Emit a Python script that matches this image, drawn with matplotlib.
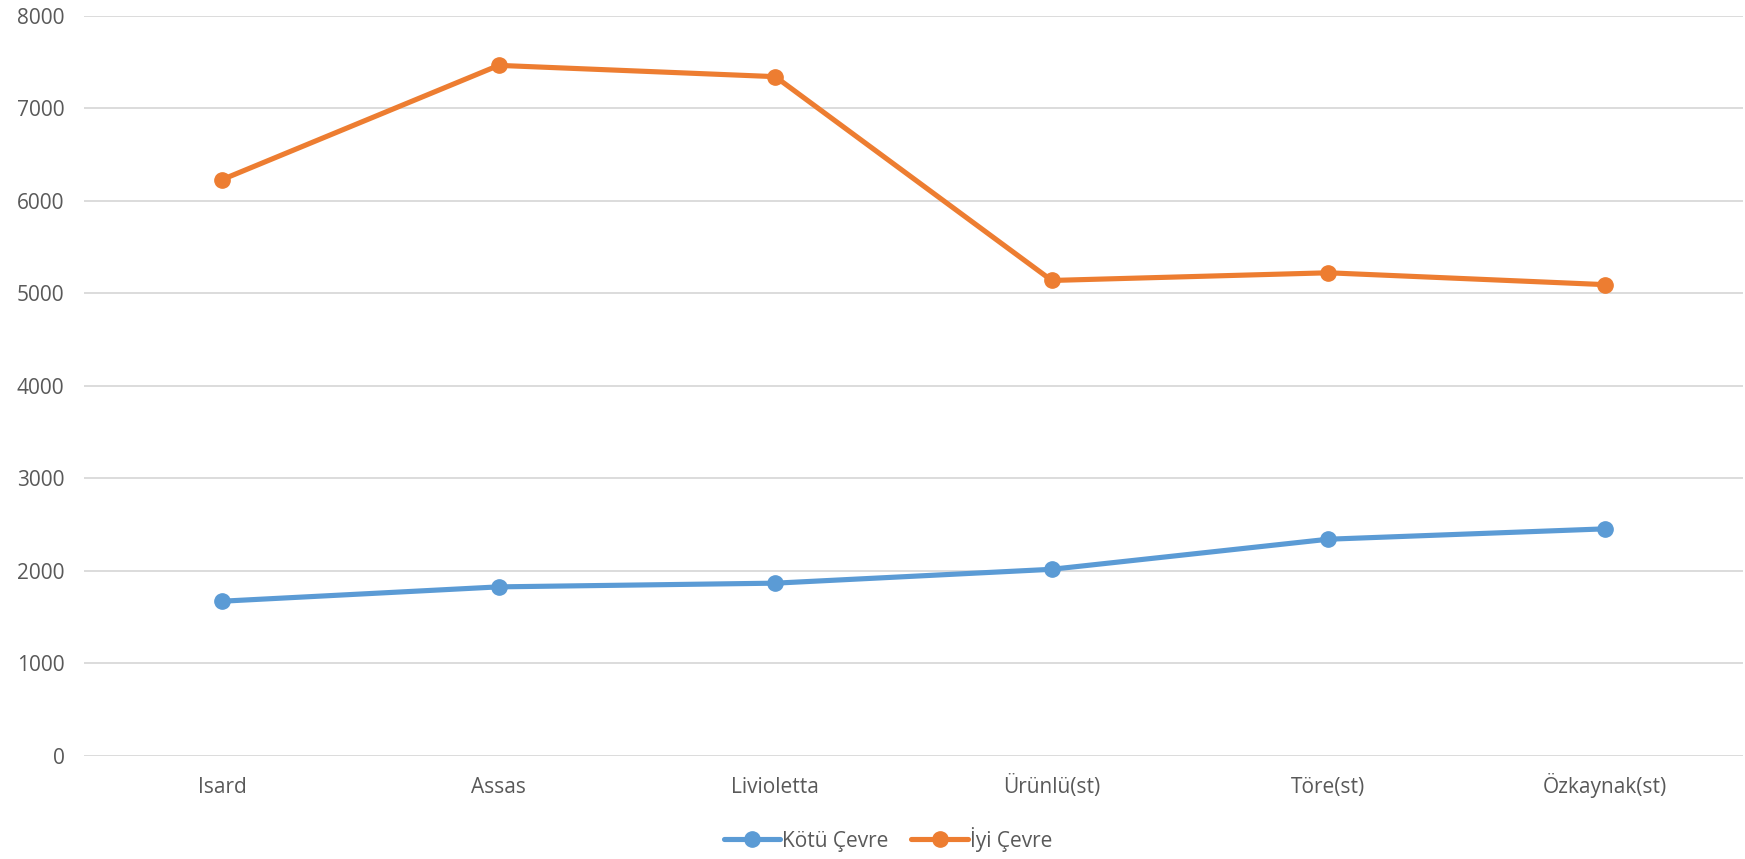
import matplotlib
matplotlib.use("Agg")
import matplotlib.pyplot as plt

categories = ["Isard", "Assas", "Livioletta", "Ürünlü(st)", "Töre(st)", "Özkaynak(st)"]
kotu_cevre = [1670, 1825, 1865, 2015, 2340, 2452]
iyi_cevre = [6228, 7462, 7340, 5137, 5220, 5092]
series_names = ["Kötü Çevre", "İyi Çevre"]
yticks = [0, 1000, 2000, 3000, 4000, 5000, 6000, 7000, 8000]

plt.rcParams['font.family'] = ['Open Sans', 'DejaVu Sans']

fig = plt.figure(figsize=(17.45, 8.59), dpi=100)
ax = fig.add_axes([84/1745, 103.3/859, 1659/1745, (755.7-15.6)/859])

x = list(range(len(categories)))
ax.plot(x, kotu_cevre, color="#5B9BD5", lw=3.7, marker="o", ms=11, label=series_names[0], solid_capstyle="round")
ax.plot(x, iyi_cevre, color="#ED7D31", lw=3.7, marker="o", ms=11, label=series_names[1], solid_capstyle="round")

ax.set_xlim(-0.5, len(categories) - 0.5)
ax.set_ylim(0, 8000)
ax.set_yticks(yticks)
ax.set_xticks(x)
ax.set_xticklabels(categories)
ax.grid(axis="y", color="#D9D9D9", lw=1.3)
ax.set_axisbelow(True)
for s in ax.spines.values():
    s.set_visible(False)
ax.tick_params(axis="both", length=0, labelsize=15, colors="#595959")
ax.tick_params(axis="x", pad=27)
ax.tick_params(axis="y", pad=14)
for lbl in ax.get_xticklabels():
    lbl.set_verticalalignment("baseline")

leg = fig.legend(loc="center", bbox_to_anchor=(888/1745, 1 - 839/859), ncol=2, frameon=False,
                 fontsize=15, handlelength=2.7, columnspacing=1.1, handletextpad=0.1)
for t in leg.get_texts():
    t.set_color("#595959")

fig.savefig("out.png", dpi=100, facecolor="white")
